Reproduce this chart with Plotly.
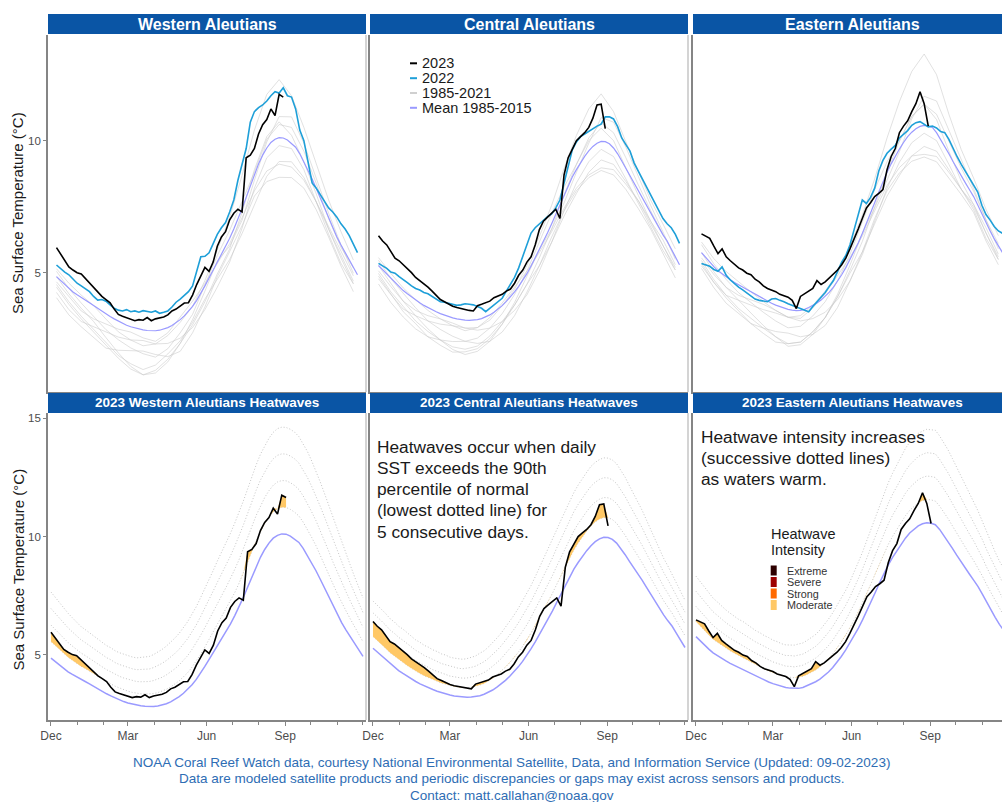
import datetime as dt
import numpy as np
import plotly.graph_objects as go

# ---------------- data (days since 1 Dec) ----------------
BASE = dt.datetime(2022, 12, 1)
DAYS_2023 = list(range(0, 276, 5))
DAYS_FULL = list(range(0, 366, 5))
DAYS_GRAY = list(range(0, 361, 15))

REGIONS = ["Western Aleutians", "Central Aleutians", "Eastern Aleutians"]

SST_2023_WEST = [5.95, 5.70, 5.45, 5.22, 5.10, 5.00, 4.95, 4.78, 4.62, 4.45, 4.25, 4.10, 3.98, 3.86,
                 3.62, 3.42, 3.35, 3.30, 3.25, 3.18, 3.22, 3.20, 3.30, 3.18, 3.25, 3.28, 3.32, 3.40,
                 3.55, 3.62, 3.72, 3.85, 3.86, 4.15, 4.55, 4.85, 5.20, 5.05, 5.40, 6.00, 6.35, 6.55,
                 7.00, 7.25, 7.40, 7.30, 9.35, 9.45, 9.70, 10.25, 10.60, 10.80, 11.20, 10.95, 11.75, 11.65]
SST_2023_CENTRAL = [6.40, 6.20, 6.05, 5.80, 5.55, 5.45, 5.30, 5.18, 5.00, 4.82, 4.70, 4.55, 4.45, 4.30,
                    4.12, 3.98, 3.90, 3.80, 3.73, 3.68, 3.64, 3.62, 3.57, 3.55, 3.75, 3.80, 3.85, 3.92,
                    4.05, 4.12, 4.18, 4.30, 4.38, 4.60, 4.90, 5.10, 5.40, 5.60, 6.05, 6.62, 6.95, 7.10,
                    7.25, 7.40, 7.05, 8.70, 9.35, 9.65, 10.00, 10.15, 10.30, 10.50, 10.85, 11.35, 11.38, 10.45]
SST_2023_EAST = [6.47, 6.40, 6.30, 6.00, 5.72, 5.90, 5.60, 5.45, 5.32, 5.18, 5.10, 4.98, 4.92, 4.75,
                 4.65, 4.50, 4.40, 4.35, 4.28, 4.18, 4.12, 4.07, 3.95, 3.64, 4.10, 4.20, 4.30, 4.40,
                 4.70, 4.55, 4.65, 4.80, 4.92, 5.10, 5.30, 5.55, 5.90, 6.25, 6.65, 7.05, 7.45, 7.65,
                 7.88, 8.00, 8.15, 8.90, 9.40, 9.70, 10.30, 10.55, 10.75, 11.10, 11.40, 11.85, 11.40, 10.55]

SST_2022_WEST = [5.29, 5.15, 5.02, 4.92, 4.75, 4.60, 4.50, 4.38, 4.28, 4.10, 3.96, 3.98, 3.92, 3.78, 3.65,
                 3.58, 3.55, 3.60, 3.52, 3.55, 3.50, 3.56, 3.52, 3.50, 3.55, 3.46, 3.50, 3.55, 3.70, 3.88,
                 4.00, 4.15, 4.28, 4.50, 5.10, 5.60, 5.62, 5.75, 6.10, 6.45, 6.70, 6.90, 7.30, 7.75, 8.50,
                 9.05, 9.70, 10.70, 11.10, 11.25, 11.35, 11.50, 11.70, 11.85, 11.80, 12.00, 11.70, 11.65,
                 11.20, 10.40, 10.00, 9.20, 8.40, 8.20, 7.95, 7.65, 7.45, 7.30, 7.10, 6.85, 6.65, 6.40,
                 6.10, 5.76]
SST_2022_CENTRAL = [5.35, 5.25, 5.16, 5.02, 4.98, 4.85, 4.72, 4.62, 4.50, 4.40, 4.34, 4.25, 4.20, 4.10,
                    3.98, 3.90, 3.88, 3.84, 3.82, 3.76, 3.78, 3.82, 3.80, 3.78, 3.72, 3.65, 3.52, 3.65,
                    3.78, 3.90, 4.03, 4.30, 4.55, 4.82, 5.18, 5.60, 6.00, 6.50, 6.70, 6.85, 7.00, 7.12,
                    7.22, 7.45, 7.75, 8.35, 9.00, 9.65, 9.95, 10.15, 10.25, 10.35, 10.47, 10.55, 10.62,
                    10.90, 10.90, 10.82, 10.53, 10.10, 9.85, 9.60, 9.15, 8.85, 8.55, 8.26, 7.95, 7.65,
                    7.30, 7.05, 6.85, 6.70, 6.45, 6.11]
SST_2022_EAST = [5.35, 5.30, 5.24, 5.12, 5.05, 5.22, 4.90, 4.72, 4.58, 4.45, 4.35, 4.24, 4.12, 4.00,
                 3.95, 3.92, 3.90, 4.00, 4.02, 3.95, 3.90, 3.82, 3.76, 3.72, 3.65, 3.58, 3.52, 3.72,
                 3.90, 4.08, 4.25, 4.48, 4.70, 5.05, 5.40, 5.65, 6.05, 6.62, 7.15, 7.75, 7.62, 7.85,
                 8.20, 8.85, 9.25, 9.52, 9.68, 9.82, 10.10, 10.25, 10.38, 10.58, 10.68, 10.72, 10.62,
                 10.52, 10.55, 10.48, 10.34, 10.30, 10.05, 9.70, 9.39, 9.10, 8.85, 8.60, 8.35, 8.05,
                 7.55, 7.20, 6.99, 6.75, 6.58, 6.49]

MEAN_WEST = [4.85, 4.70, 4.55, 4.41, 4.27, 4.16, 4.05, 3.95, 3.86, 3.76, 3.65, 3.54, 3.44, 3.34, 3.25,
             3.16, 3.08, 3.01, 2.95, 2.90, 2.86, 2.83, 2.81, 2.80, 2.80, 2.82, 2.86, 2.92, 3.00, 3.10,
             3.22, 3.36, 3.52, 3.72, 3.95, 4.21, 4.50, 4.80, 5.10, 5.39, 5.68, 5.98, 6.30, 6.65, 7.02,
             7.42, 7.85, 8.30, 8.75, 9.12, 9.45, 9.72, 9.93, 10.05, 10.11, 10.10, 10.02, 9.90, 9.75,
             9.50, 9.20, 8.88, 8.55, 8.19, 7.82, 7.43, 7.05, 6.69, 6.35, 6.05, 5.76, 5.47, 5.18, 4.92]
THRESH_WEST = [5.55, 5.38, 5.21, 5.05, 4.89, 4.76, 4.63, 4.51, 4.41, 4.30, 4.18, 4.06, 3.96, 3.85, 3.76,
               3.66, 3.58, 3.51, 3.45, 3.40, 3.36, 3.34, 3.33, 3.33, 3.35, 3.39, 3.45, 3.53, 3.63, 3.75,
               3.89, 4.06, 4.24, 4.47, 4.72, 5.01, 5.32, 5.65, 5.97, 6.29, 6.60, 6.92, 7.26, 7.63, 8.02,
               8.44, 8.89, 9.36, 9.82, 10.21, 10.55, 10.83, 11.05, 11.18, 11.24, 11.23, 11.15, 11.03,
               10.87, 10.61, 10.30, 9.96, 9.61, 9.22, 8.82, 8.40, 7.98, 7.58, 7.20, 6.86, 6.52, 6.18,
               5.84, 5.54]
MEAN_CENTRAL = [5.27, 5.11, 4.95, 4.77, 4.60, 4.46, 4.32, 4.20, 4.08, 3.97, 3.86, 3.76, 3.67, 3.59, 3.52,
                3.45, 3.39, 3.34, 3.29, 3.25, 3.22, 3.20, 3.19, 3.20, 3.22, 3.26, 3.32, 3.40, 3.50, 3.62,
                3.75, 3.91, 4.08, 4.27, 4.48, 4.71, 4.96, 5.25, 5.55, 5.86, 6.18, 6.51, 6.85, 7.21, 7.58,
                7.95, 8.30, 8.62, 8.90, 9.16, 9.40, 9.61, 9.78, 9.90, 9.97, 9.96, 9.88, 9.72, 9.50, 9.23,
                8.95, 8.69, 8.42, 8.14, 7.85, 7.55, 7.25, 6.96, 6.68, 6.43, 6.20, 5.90, 5.60, 5.30]
THRESH_CENTRAL = [5.77, 5.61, 5.44, 5.26, 5.08, 4.94, 4.79, 4.67, 4.54, 4.42, 4.30, 4.20, 4.10, 4.02,
                  3.94, 3.87, 3.80, 3.75, 3.69, 3.65, 3.62, 3.60, 3.60, 3.62, 3.65, 3.71, 3.78, 3.88,
                  4.00, 4.14, 4.29, 4.47, 4.66, 4.87, 5.10, 5.35, 5.61, 5.92, 6.24, 6.57, 6.90, 7.25,
                  7.60, 7.98, 8.36, 8.74, 9.10, 9.43, 9.72, 9.99, 10.23, 10.45, 10.62, 10.74, 10.81,
                  10.80, 10.72, 10.56, 10.33, 10.05, 9.75, 9.47, 9.18, 8.88, 8.56, 8.23, 7.90, 7.59,
                  7.28, 7.01, 6.75, 6.43, 6.11, 5.80]
MEAN_EAST = [5.76, 5.57, 5.40, 5.23, 5.07, 4.95, 4.84, 4.73, 4.63, 4.54, 4.45, 4.36, 4.27, 4.18, 4.09,
             4.00, 3.92, 3.84, 3.77, 3.71, 3.66, 3.61, 3.58, 3.56, 3.57, 3.61, 3.68, 3.76, 3.85, 3.96,
             4.10, 4.26, 4.45, 4.67, 4.92, 5.19, 5.48, 5.79, 6.12, 6.48, 6.85, 7.25, 7.65, 8.06, 8.45,
             8.80, 9.12, 9.41, 9.68, 9.93, 10.15, 10.32, 10.45, 10.54, 10.58, 10.56, 10.50, 10.30,
             10.05, 9.78, 9.50, 9.21, 8.92, 8.66, 8.40, 8.14, 7.88, 7.56, 7.22, 6.90, 6.58, 6.28,
             6.00, 5.76]
THRESH_EAST = [6.40, 6.20, 6.01, 5.83, 5.65, 5.52, 5.39, 5.27, 5.16, 5.06, 4.96, 4.87, 4.77, 4.67, 4.57,
               4.48, 4.39, 4.31, 4.23, 4.17, 4.11, 4.06, 4.04, 4.02, 4.04, 4.08, 4.16, 4.25, 4.35, 4.48,
               4.64, 4.82, 5.03, 5.27, 5.54, 5.82, 6.13, 6.46, 6.82, 7.20, 7.60, 8.02, 8.45, 8.88, 9.30,
               9.67, 10.01, 10.32, 10.61, 10.88, 11.11, 11.29, 11.43, 11.52, 11.57, 11.55, 11.50,
               11.29, 11.03, 10.75, 10.45, 10.14, 9.82, 9.54, 9.25, 8.97, 8.68, 8.33, 7.96, 7.62,
               7.27, 6.95, 6.65, 6.40]

# 1985-2021 years (a sample of the grey bundle), every 15 days
GRAY_WEST = [
    [4.55, 3.90, 3.35, 2.85, 2.34, 1.86, 1.55, 1.33, 1.50, 1.92, 2.42, 3.12, 4.00, 4.75, 5.50, 6.48, 7.60, 8.65, 9.21, 9.20, 8.60, 7.68, 6.65, 5.65, 4.68],
    [5.05, 4.40, 3.85, 3.35, 2.84, 2.46, 2.15, 1.93, 1.80, 2.12, 2.72, 3.42, 4.50, 5.65, 6.60, 7.68, 8.80, 10.05, 10.61, 10.50, 9.60, 8.38, 7.05, 5.95, 5.18],
    [4.25, 3.60, 3.15, 2.95, 2.74, 2.56, 2.45, 2.43, 2.30, 2.32, 2.52, 2.92, 3.60, 4.45, 5.40, 6.68, 8.20, 9.35, 9.81, 9.70, 8.90, 7.68, 6.45, 5.35, 4.58],
    [4.85, 4.20, 3.65, 3.15, 2.54, 1.96, 1.45, 1.13, 1.20, 1.62, 2.32, 3.22, 4.30, 5.45, 6.00, 6.98, 8.50, 9.95, 10.91, 10.90, 9.90, 8.58, 7.25, 6.05, 4.98],
    [4.65, 4.10, 3.55, 3.25, 3.04, 2.86, 2.75, 2.53, 2.40, 2.72, 3.32, 3.92, 4.60, 5.35, 6.10, 7.08, 8.10, 8.85, 9.11, 9.00, 8.50, 7.68, 6.75, 5.85, 4.88],
    [4.45, 3.80, 3.25, 2.75, 2.24, 1.76, 1.35, 1.13, 1.30, 1.72, 2.32, 3.02, 3.90, 4.95, 5.90, 7.28, 8.90, 10.15, 10.71, 10.20, 9.20, 7.98, 6.65, 5.55, 4.58],
    [5.15, 4.60, 4.15, 3.75, 3.24, 2.76, 2.45, 2.23, 2.30, 2.62, 3.12, 3.72, 4.70, 5.85, 7.10, 8.68, 10.40, 11.75, 12.31, 11.70, 10.50, 9.08, 7.75, 6.55, 5.48],
    [4.05, 3.40, 2.95, 2.55, 2.14, 2.06, 2.05, 2.03, 1.90, 1.82, 2.02, 2.72, 3.70, 4.85, 5.80, 6.78, 7.90, 8.45, 8.61, 8.60, 8.20, 7.38, 6.35, 5.25, 4.28],
]
GRAY_CENTRAL = [
    [4.97, 4.27, 3.72, 3.17, 2.77, 2.45, 2.19, 2.10, 2.22, 2.60, 3.15, 3.77, 4.56, 5.26, 6.15, 7.14, 8.00, 8.80, 9.27, 9.10, 8.45, 7.73, 6.85, 6.04, 5.20],
    [5.47, 4.77, 4.22, 3.67, 3.17, 2.85, 2.59, 2.40, 2.52, 2.90, 3.45, 4.17, 5.06, 6.16, 7.25, 8.24, 9.10, 10.10, 10.67, 10.30, 9.35, 8.33, 7.35, 6.44, 5.60],
    [4.77, 4.17, 3.62, 3.37, 3.17, 3.05, 2.99, 2.90, 2.82, 2.90, 3.15, 3.57, 4.16, 5.06, 6.15, 7.34, 8.40, 9.20, 9.67, 9.40, 8.55, 7.63, 6.75, 5.84, 5.10],
    [5.27, 4.57, 3.92, 3.37, 2.87, 2.45, 2.09, 1.90, 2.02, 2.40, 3.05, 3.87, 4.86, 5.86, 6.65, 7.64, 8.80, 9.90, 10.87, 10.70, 9.75, 8.63, 7.55, 6.54, 5.50],
    [5.07, 4.47, 3.92, 3.57, 3.37, 3.25, 3.09, 2.90, 2.92, 3.30, 3.85, 4.47, 5.06, 5.76, 6.55, 7.44, 8.20, 8.70, 8.97, 8.90, 8.35, 7.73, 6.95, 6.24, 5.30],
    [4.87, 4.17, 3.52, 3.07, 2.57, 2.25, 1.99, 2.00, 2.12, 2.50, 3.05, 3.77, 4.56, 5.56, 6.65, 7.94, 9.10, 10.00, 10.47, 10.00, 8.95, 7.93, 6.95, 6.04, 5.10],
    [5.57, 4.97, 4.42, 3.97, 3.57, 3.25, 2.99, 2.80, 2.92, 3.20, 3.75, 4.37, 5.26, 6.36, 7.55, 8.94, 10.20, 11.20, 11.77, 11.10, 9.95, 8.83, 7.75, 6.84, 5.90],
    [4.57, 3.87, 3.32, 2.87, 2.57, 2.45, 2.39, 2.40, 2.32, 2.40, 2.75, 3.37, 4.26, 5.26, 6.35, 7.34, 8.10, 8.60, 8.87, 8.70, 8.15, 7.43, 6.65, 5.74, 4.80],
]
GRAY_EAST = [
    [5.46, 4.73, 4.14, 3.64, 3.27, 2.90, 2.57, 2.31, 2.37, 2.76, 3.30, 4.08, 4.98, 5.78, 6.85, 7.90, 8.68, 9.42, 9.78, 9.60, 8.90, 8.16, 7.48, 6.50, 5.60],
    [6.06, 5.33, 4.74, 4.24, 3.87, 3.50, 3.17, 2.91, 2.97, 3.36, 3.90, 4.68, 5.68, 6.88, 8.15, 9.20, 9.98, 10.92, 11.38, 11.00, 10.00, 8.96, 8.08, 7.00, 6.10],
    [5.26, 4.63, 4.14, 3.94, 3.77, 3.60, 3.47, 3.31, 3.17, 3.26, 3.50, 3.98, 4.68, 5.68, 6.95, 8.20, 9.18, 9.92, 10.28, 10.00, 9.10, 8.16, 7.38, 6.30, 5.50],
    [5.76, 5.03, 4.44, 3.94, 3.47, 3.00, 2.57, 2.21, 2.27, 2.66, 3.30, 4.18, 5.28, 6.48, 7.45, 8.50, 9.58, 10.82, 11.68, 11.50, 10.40, 9.26, 8.18, 7.00, 5.90],
    [5.56, 4.93, 4.44, 4.14, 3.97, 3.80, 3.57, 3.31, 3.27, 3.66, 4.20, 4.88, 5.58, 6.38, 7.35, 8.30, 8.98, 9.42, 9.48, 9.40, 8.80, 8.16, 7.58, 6.70, 5.70],
    [5.36, 4.63, 4.04, 3.54, 3.07, 2.70, 2.37, 2.31, 2.37, 2.76, 3.30, 4.08, 5.08, 6.18, 7.45, 8.80, 9.98, 10.92, 11.38, 10.80, 9.60, 8.46, 7.58, 6.50, 5.50],
    [6.16, 5.53, 5.04, 4.64, 4.27, 3.90, 3.57, 3.31, 3.37, 3.76, 4.30, 4.98, 5.98, 7.18, 8.55, 10.10, 11.48, 12.62, 13.28, 12.50, 11.00, 9.66, 8.58, 7.40, 6.40],
    [5.16, 4.43, 3.84, 3.44, 3.07, 2.90, 2.77, 2.71, 2.57, 2.66, 3.00, 3.68, 4.68, 5.78, 7.05, 8.10, 8.78, 9.22, 9.38, 9.20, 8.60, 7.96, 7.28, 6.20, 5.30],
]

MONTH_TICKS = ["Dec", "Mar", "Jun", "Sep", ""]

DATA = [
    (SST_2023_WEST, SST_2022_WEST, MEAN_WEST, THRESH_WEST, GRAY_WEST),
    (SST_2023_CENTRAL, SST_2022_CENTRAL, MEAN_CENTRAL, THRESH_CENTRAL, GRAY_CENTRAL),
    (SST_2023_EAST, SST_2022_EAST, MEAN_EAST, THRESH_EAST, GRAY_EAST),
]

# ---------------- styling / layout ----------------
W, H = 1002, 802
FONT = "Liberation Sans, Arial, Helvetica, sans-serif"
C_2023 = "#000000"
C_2022 = "#1e9fd8"
C_GRAY = "rgba(200,200,200,0.55)"
C_MEAN = "#9a9aff"
C_DOT = "#c6c6c6"
C_STRIP = "#0a55a5"
C_AX = "#858585"
HW_COLORS = {"Extreme": "#2d0000", "Severe": "#9e0000", "Strong": "#ff6900", "Moderate": "#ffc866"}

COLS = [(48, 366), (370, 688), (693, 1002)]
TOP = (35, 392)
BOT = (413, 720)
TOP_STRIP = (14, 34)
BOT_STRIP = (393, 413)


def fx(px):
    return px / W


def fy(px):
    return 1 - px / H


def d2date(d):
    return BASE + dt.timedelta(days=d)


def dates(days):
    return [d2date(d) for d in days]


fig = go.Figure()

for c, (s23, s22, mean, thr, grays) in enumerate(DATA):
    top_ax = c + 1
    bot_ax = c + 4
    xt = "x" if top_ax == 1 else f"x{top_ax}"
    yt = "y" if top_ax == 1 else f"y{top_ax}"
    xb, yb = f"x{bot_ax}", f"y{bot_ax}"

    # --- top row ---
    for g in grays:
        fig.add_trace(go.Scatter(x=dates(DAYS_GRAY), y=g, mode="lines", xaxis=xt, yaxis=yt,
                                 line=dict(color=C_GRAY, width=1), hoverinfo="skip", showlegend=False))
    fig.add_trace(go.Scatter(x=dates(DAYS_FULL), y=mean, mode="lines", xaxis=xt, yaxis=yt,
                             line=dict(color=C_MEAN, width=1.2), showlegend=False, name="Mean 1985-2015"))
    fig.add_trace(go.Scatter(x=dates(DAYS_FULL), y=s22, mode="lines", xaxis=xt, yaxis=yt,
                             line=dict(color=C_2022, width=1.6), showlegend=False, name="2022"))
    fig.add_trace(go.Scatter(x=dates(DAYS_2023), y=s23, mode="lines", xaxis=xt, yaxis=yt,
                             line=dict(color=C_2023, width=1.6), showlegend=False, name="2023"))

    # --- bottom row ---
    m = np.array(mean)
    t = np.array(thr)
    for k in (4, 3, 2, 1):
        fig.add_trace(go.Scatter(x=dates(DAYS_FULL), y=m + k * (t - m), mode="lines", xaxis=xb, yaxis=yb,
                                 line=dict(color=C_DOT, width=1, dash="1px,2px"), hoverinfo="skip",
                                 showlegend=False))
    fig.add_trace(go.Scatter(x=dates(DAYS_FULL), y=mean, mode="lines", xaxis=xb, yaxis=yb,
                             line=dict(color=C_MEAN, width=1.5), showlegend=False))
    n = len(s23)
    sst = np.array(s23)
    tsub = t[:n]
    fig.add_trace(go.Scatter(x=dates(DAYS_2023), y=tsub, mode="lines", xaxis=xb, yaxis=yb,
                             line=dict(width=0, color="rgba(0,0,0,0)"), hoverinfo="skip", showlegend=False))
    fig.add_trace(go.Scatter(x=dates(DAYS_2023), y=np.maximum(sst, tsub), mode="lines", xaxis=xb, yaxis=yb,
                             fill="tonexty", fillcolor=HW_COLORS["Moderate"],
                             line=dict(width=0, color="rgba(0,0,0,0)"), hoverinfo="skip", showlegend=False))
    fig.add_trace(go.Scatter(x=dates(DAYS_2023), y=s23, mode="lines", xaxis=xb, yaxis=yb,
                             line=dict(color=C_2023, width=1.6), showlegend=False))

layout = dict(width=W, height=H, margin=dict(l=0, r=0, t=0, b=0, autoexpand=False),
              paper_bgcolor="white", plot_bgcolor="white",
              font=dict(family=FONT, color="#222222"), showlegend=False)

TOP_PPD = 301.0 / 365.0
BOT_PPD = 312.0 / 365.0
month_starts = [dt.datetime(2022, 12, 1)] + [dt.datetime(2023, mth, 1) for mth in range(1, 13)]
major = [dt.datetime(2022, 12, 1), dt.datetime(2023, 3, 1), dt.datetime(2023, 6, 1),
         dt.datetime(2023, 9, 1), dt.datetime(2023, 12, 1)]

for c, (x0, x1) in enumerate(COLS):
    for row in (0, 1):
        idx = c + 1 + 3 * row
        xk = "xaxis" if idx == 1 else f"xaxis{idx}"
        yk = "yaxis" if idx == 1 else f"yaxis{idx}"
        xa = "x" if idx == 1 else f"x{idx}"
        ya = "y" if idx == 1 else f"y{idx}"
        if row == 0:
            lo = -10.3
            hi = lo + (x1 - x0) / TOP_PPD
            ydom = [fy(TOP[1]), fy(TOP[0])]
            yrng = [0.48, 14.0]
            yt = [5, 10]
        else:
            lo = -3.5
            hi = lo + (x1 - x0) / BOT_PPD
            ydom = [fy(BOT[1]), fy(BOT[0])]
            yrng = [2.23, 15.23]
            yt = [5, 10, 15]
        xcfg = dict(domain=[fx(x0), fx(x1)], anchor=ya, type="date", automargin=False,
                    range=[d2date(lo), d2date(hi)], showgrid=False, zeroline=False,
                    showline=True, linecolor=C_AX, linewidth=1.6, fixedrange=True)
        if row == 1:
            xcfg.update(tickmode="array", tickvals=major, ticktext=MONTH_TICKS, ticks="outside",
                        ticklen=4, tickwidth=1, tickcolor=C_AX,
                        tickfont=dict(size=12, color="#4d4d4d", family=FONT),
                        minor=dict(tickmode="array", tickvals=month_starts, ticks="outside",
                                   ticklen=3, tickwidth=1, tickcolor=C_AX))
        else:
            xcfg.update(showticklabels=False, ticks="")
        ycfg = dict(domain=ydom, anchor=xa, range=yrng, showgrid=False, zeroline=False, automargin=False,
                    showline=True, linecolor=C_AX, linewidth=1.8, fixedrange=True)
        if c == 0:
            ycfg.update(tickmode="array", tickvals=yt, ticks="outside", ticklen=3, tickwidth=1,
                        tickcolor=C_AX, tickfont=dict(size=11.5, color="#4d4d4d", family=FONT))
        else:
            ycfg.update(showticklabels=False, ticks="")
        layout[xk] = xcfg
        layout[yk] = ycfg

fig.update_layout(**layout)

shapes = []
annotations = []

# strips and right borders
for c, (x0, x1) in enumerate(COLS):
    for (s0, s1), title, size in ((TOP_STRIP, REGIONS[c], 16),
                                  (BOT_STRIP, f"2023 {REGIONS[c]} Heatwaves", 13.5)):
        shapes.append(dict(type="rect", xref="paper", yref="paper", x0=fx(x0), x1=fx(x1),
                           y0=fy(s1), y1=fy(s0), fillcolor=C_STRIP, line=dict(width=0), layer="above"))
        cx = (x0 + x1) / 2 if c < 2 else (x0 + 1011) / 2
        annotations.append(dict(xref="paper", yref="paper", x=fx(cx), y=fy((s0 + s1) / 2),
                                text=f"<b>{title}</b>", showarrow=False, xanchor="center", yanchor="middle",
                                font=dict(size=size, color="white", family=FONT)))
    if c < 2:
        for (p0, p1) in (TOP, BOT):
            shapes.append(dict(type="line", xref="paper", yref="paper", x0=fx(x1), x1=fx(x1),
                               y0=fy(p1), y1=fy(p0), line=dict(color="#c6c6c6", width=1.5), layer="above"))

# y-axis titles
for cy in (213, 569.5):
    annotations.append(dict(xref="paper", yref="paper", x=fx(18), y=fy(cy), text="Sea Surface Temperature (°C)",
                            textangle=-90, showarrow=False, xanchor="center", yanchor="middle",
                            font=dict(size=15, color="#1a1a1a", family=FONT)))

# legend (top central panel)
LEG = [("2023", C_2023, 63.3), ("2022", C_2022, 78.2), ("1985-2021", "#d0d0d0", 93.0),
       ("Mean 1985-2015", C_MEAN, 107.8)]
for lab, col, yy in LEG:
    shapes.append(dict(type="line", xref="paper", yref="paper", x0=fx(410), x1=fx(417), y0=fy(yy), y1=fy(yy),
                       line=dict(color=col, width=2)))
    annotations.append(dict(xref="paper", yref="paper", x=fx(420.5), y=fy(yy), text=lab, showarrow=False,
                            xanchor="left", yanchor="middle", borderpad=0,
                            font=dict(size=14.5, color="#1a1a1a", family=FONT)))

# explanatory texts
TXT_C = ["Heatwaves occur when daily", "SST exceeds the 90th", "percentile of normal",
         "(lowest dotted line) for", "5 consecutive days."]
for i, line in enumerate(TXT_C):
    annotations.append(dict(xref="paper", yref="paper", x=fx(375.5), y=fy(446.7 + 21.25 * i), text=line,
                            showarrow=False, xanchor="left", yanchor="middle", borderpad=0,
                            font=dict(size=17.3, color="#1a1a1a", family=FONT)))
TXT_E = ["Heatwave intensity increases", "(successive dotted lines)", "as waters warm."]
for i, line in enumerate(TXT_E):
    annotations.append(dict(xref="paper", yref="paper", x=fx(699.5), y=fy(436.7 + 21.3 * i), text=line,
                            showarrow=False, xanchor="left", yanchor="middle", borderpad=0,
                            font=dict(size=17.3, color="#1a1a1a", family=FONT)))

# heatwave intensity legend
for i, line in enumerate(["Heatwave", "Intensity"]):
    annotations.append(dict(xref="paper", yref="paper", x=fx(769.5), y=fy(533.5 + 16.5 * i), text=line,
                            showarrow=False, xanchor="left", yanchor="middle", borderpad=0,
                            font=dict(size=14.5, color="#1a1a1a", family=FONT)))
for i, cat in enumerate(["Extreme", "Severe", "Strong", "Moderate"]):
    yy = 570.5 + 11.5 * i
    shapes.append(dict(type="rect", xref="paper", yref="paper", x0=fx(770.7), x1=fx(776.7),
                       y0=fy(yy + 5), y1=fy(yy - 5), fillcolor=HW_COLORS[cat], line=dict(width=0)))
    annotations.append(dict(xref="paper", yref="paper", x=fx(785.5), y=fy(yy), text=cat, showarrow=False,
                            xanchor="left", yanchor="middle", borderpad=0,
                            font=dict(size=10.8, color="#333333", family=FONT)))

# caption
CAPTION = ["NOAA Coral Reef Watch data, courtesy National Environmental Satellite, Data, and Information Service (Updated: 09-02-2023)",
           "Data are modeled satellite products and periodic discrepancies or gaps may exist across sensors and products.",
           "Contact: matt.callahan@noaa.gov"]
for i, line in enumerate(CAPTION):
    annotations.append(dict(xref="paper", yref="paper", x=fx(512), y=fy(762 + 16.5 * i), text=line,
                            showarrow=False, xanchor="center", yanchor="middle", borderpad=0,
                            font=dict(size=13.5, color="#2e6db4", family=FONT)))

fig.update_layout(shapes=shapes, annotations=annotations)

fig.write_html("out.html", config={"displayModeBar": False},
               post_script="document.body.style.margin='0';document.body.style.overflow='hidden';")
